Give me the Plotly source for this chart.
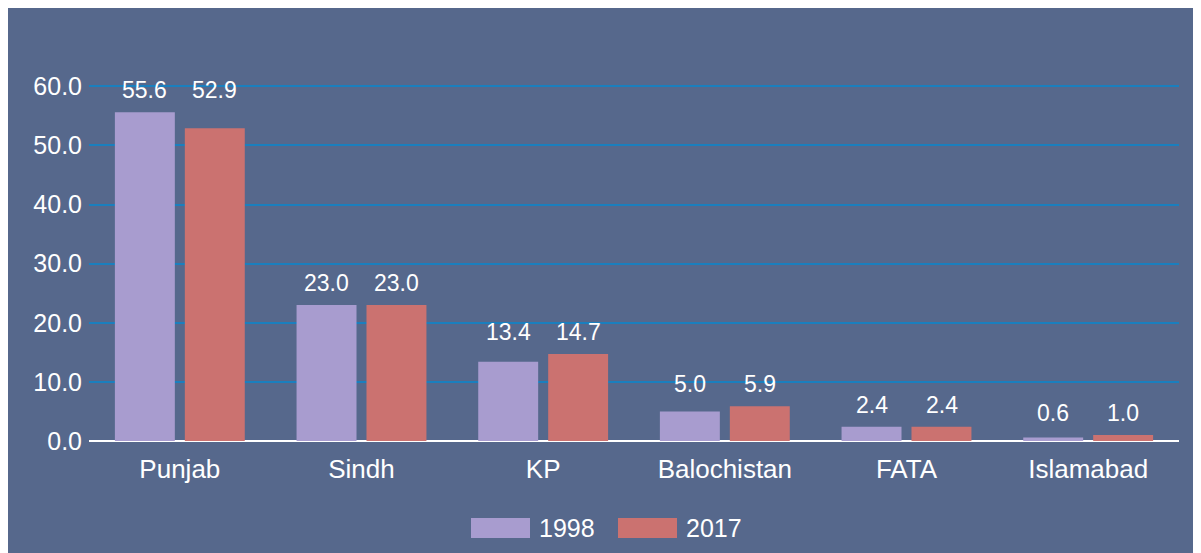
import plotly.graph_objects as go

regions = ["Punjab", "Sindh", "KP", "Balochistan", "FATA", "Islamabad"]
share_1998 = [55.6, 23.0, 13.4, 5.0, 2.4, 0.6]
share_2017 = [52.9, 23.0, 14.7, 5.9, 2.4, 1.0]
series_names = ["1998", "2017"]
y_ticks = [0, 10, 20, 30, 40, 50, 60]
y_tick_text = ["0.0", "10.0", "20.0", "30.0", "40.0", "50.0", "60.0"]

BG = "#56688C"
PURPLE = "#A89CCF"
RED = "#CB7270"
GRID = "#1A7FBE"
FONT = "Liberation Sans, Arial, sans-serif"

# figure sits inside the page's 8px body margin
W, H = 1193, 545
ML, MR, MT, MB = 81, 22, 76, 112
PW, PH = W - ML - MR, H - MT - MB
OFF = 8  # page offset of the figure


def px_x(x):
    return (x - OFF - ML) / PW


def px_y(y):
    return (H - MB - (y - OFF)) / PH


group_top = [max(a, b) for a, b in zip(share_1998, share_2017)]

fig = go.Figure()
series = [(series_names[0], share_1998, PURPLE, -35), (series_names[1], share_2017, RED, 35)]
annotations = []
for name, vals, col, dx in series:
    fig.add_trace(go.Bar(
        x=regions, y=vals, name=name, marker=dict(color=col, line=dict(width=0)),
        showlegend=False,
    ))
    for cat, v, top in zip(regions, vals, group_top):
        annotations.append(dict(x=cat, y=top, xref="x", yref="y", text=f"{v:.1f}",
                                showarrow=False, xshift=dx, yshift=7, yanchor="bottom",
                                font=dict(color="white", size=23, family=FONT)))

shapes = []
legend_items = [(series_names[0], PURPLE, 471), (series_names[1], RED, 618)]
for name, col, x0 in legend_items:
    shapes.append(dict(type="rect", xref="paper", yref="paper", x0=px_x(x0), x1=px_x(x0 + 59),
                       y0=px_y(538), y1=px_y(518), fillcolor=col, line=dict(width=0)))
    annotations.append(dict(xref="paper", yref="paper", x=px_x(x0 + 66), y=px_y(528),
                            text=name, showarrow=False, xanchor="left", yanchor="middle",
                            font=dict(color="white", size=25, family=FONT)))

fig.update_layout(
    width=W, height=H,
    margin=dict(l=ML, r=MR, t=MT, b=MB),
    paper_bgcolor=BG, plot_bgcolor=BG,
    barmode="group", bargap=0.23, bargroupgap=0.143,
    font=dict(family=FONT, color="white"),
    shapes=shapes, annotations=annotations,
    xaxis=dict(showgrid=False, showline=False, ticks="", ticklabelstandoff=10,
               tickfont=dict(size=26, color="white", family=FONT)),
    yaxis=dict(range=[0, 60.4], tickvals=y_ticks, ticktext=y_tick_text,
               showgrid=True, gridcolor=GRID, gridwidth=2,
               zeroline=True, zerolinecolor="white", zerolinewidth=2,
               showline=False, ticks="", ticklabelstandoff=6,
               tickfont=dict(size=25, color="white", family=FONT)),
)

fig.write_html("out.html")
